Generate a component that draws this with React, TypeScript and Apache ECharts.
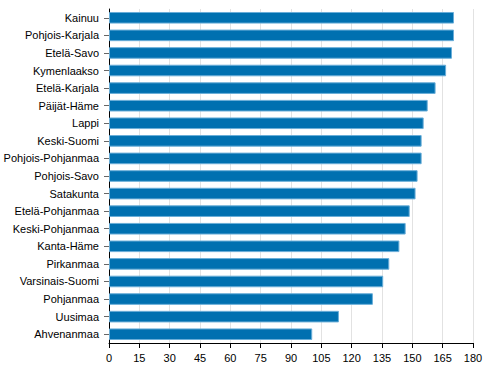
import React, { useEffect, useRef } from "react";
import * as echarts from "echarts";

const regions = [
  "Kainuu",
  "Pohjois-Karjala",
  "Etelä-Savo",
  "Kymenlaakso",
  "Etelä-Karjala",
  "Päijät-Häme",
  "Lappi",
  "Keski-Suomi",
  "Pohjois-Pohjanmaa",
  "Pohjois-Savo",
  "Satakunta",
  "Etelä-Pohjanmaa",
  "Keski-Pohjanmaa",
  "Kanta-Häme",
  "Pirkanmaa",
  "Varsinais-Suomi",
  "Pohjanmaa",
  "Uusimaa",
  "Ahvenanmaa",
];

const values = [
  170.6, 170.6, 169.6, 166.7, 161.5, 157.6, 155.6, 154.6, 154.6, 152.6,
  151.6, 148.7, 146.7, 143.6, 138.6, 135.6, 130.5, 113.7, 100.5,
];

const xMin = 0;
const xMax = 180;
const xStep = 15;

export default function App() {
  const ref = useRef<HTMLDivElement>(null);
  useEffect(() => {
    if (!ref.current) return;
    const chart = echarts.init(ref.current, null, { renderer: "svg" });
    chart.setOption({
      animation: false,
      grid: {
        left: 109,
        top: 9,
        right: 18,
        bottom: 35,
        containLabel: false,
        outerBoundsMode: "none",
      },
      xAxis: {
        type: "value",
        min: xMin,
        max: xMax,
        interval: xStep,
        axisLine: { show: true, lineStyle: { color: "#000", width: 1 } },
        axisTick: { show: true, length: 5, lineStyle: { color: "#000" } },
        axisLabel: {
          color: "#000",
          fontFamily: "Liberation Sans, Arial, sans-serif",
          fontSize: 11,
          margin: 9,
        },
        splitLine: { show: true, lineStyle: { color: "#e2e2e2", width: 1 } },
      },
      yAxis: {
        type: "category",
        data: regions,
        inverse: true,
        axisLine: { show: true, lineStyle: { color: "#000", width: 1 } },
        axisTick: {
          show: true,
          alignWithLabel: true,
          length: 5,
          lineStyle: { color: "#666" },
        },
        axisLabel: {
          color: "#000",
          fontFamily: "Liberation Sans, Arial, sans-serif",
          fontSize: 11,
          margin: 10,
        },
        splitLine: { show: false },
      },
      series: [
        {
          type: "bar",
          data: values,
          barWidth: "66%",
          itemStyle: {
            color: "#0070b0",
            borderColor: "#6aaed8",
            borderWidth: 1,
          },
        },
      ],
    });
    return () => chart.dispose();
  }, []);
  return (
    <div
      ref={ref}
      style={{ position: "absolute", left: 0, top: 0, width: 491, height: 378 }}
    />
  );
}
